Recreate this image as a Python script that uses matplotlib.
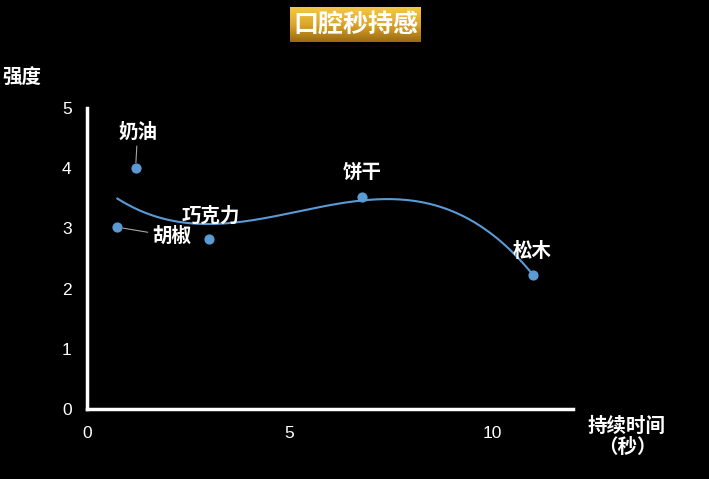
import numpy as np
import matplotlib
matplotlib.use("Agg")
import matplotlib.pyplot as plt
from matplotlib.colors import LinearSegmentedColormap

plt.rcParams['font.family'] = ['Noto Sans CJK SC', 'DejaVu Sans']

names = ["奶油", "胡椒", "巧克力", "饼干", "松木"]
duration = [1.2, 0.75, 3.0, 6.8, 11.0]
intensity = [4.0, 3.02, 2.83, 3.52, 2.23]
xticks = [0, 5, 10]
yticks = [0, 1, 2, 3, 4, 5]

W, H = 709, 479
fig = plt.figure(figsize=(W / 100, H / 100), dpi=100, facecolor="black")
ax = fig.add_axes([87 / W, 1 - 409 / H, (573 - 87) / W, (409 - 108) / H])
ax.set_facecolor("black")
ax.set_xlim(0, 12)
ax.set_ylim(0, 5)
ax.set_xticks(xticks)
ax.set_yticks(yticks)
for s in ["top", "right"]:
    ax.spines[s].set_visible(False)
for s in ["left", "bottom"]:
    ax.spines[s].set_color("white")
    ax.spines[s].set_linewidth(2.5)
ax.tick_params(length=0, colors="white", labelsize=12.5)
ax.tick_params(axis="y", pad=11)
ax.tick_params(axis="x", pad=12)
for lab in ax.get_xticklabels() + ax.get_yticklabels():
    lab.set_fontfamily(["Liberation Sans", "DejaVu Sans"])

# polynomial trendline (order 3)
coef = np.polyfit(duration, intensity, 3)
xs = np.linspace(min(duration), max(duration), 300)
ax.plot(xs, np.polyval(coef, xs), color="#5b9bd5", lw=1.5, zorder=2)

ax.scatter(duration, intensity, s=40, color="#5b9bd5", zorder=3)

offsets = [(2, 36), (54, -9), (2, 23), (0, 25), (0, 23)]
leaders = [True, True, False, False, False]
for n, x, y, off, ld in zip(names, duration, intensity, offsets, leaders):
    ap = None
    if ld:
        ap = dict(arrowstyle="-", color="#a6a6a6", lw=0.8, shrinkA=1, shrinkB=4)
    ax.annotate(n, (x, y), xytext=off, textcoords="offset pixels",
                ha="center", va="center", color="white", fontsize=14,
                fontweight="bold", zorder=4, arrowprops=ap)

# title with gold gradient box
tx0, ty0, tx1, ty1 = 290 / W, 1 - 42 / H, 421 / W, 1 - 7 / H
grad = np.linspace(0, 1, 256).reshape(-1, 1)
cmap = LinearSegmentedColormap.from_list("gold", ["#f6c945", "#dca52c", "#9a6a10"])
tax = fig.add_axes([tx0, ty0, tx1 - tx0, ty1 - ty0])
tax.imshow(grad, aspect="auto", cmap=cmap, extent=[0, 1, 0, 1], origin="upper")
tax.set_axis_off()
fig.text((tx0 + tx1) / 2, (ty0 + ty1) / 2, "口腔秒持感", ha="center", va="center",
         color="white", fontsize=18, fontweight="bold")

fig.text(22 / W, 1 - 78 / H, "强度", ha="center", va="center", color="white",
         fontsize=14, fontweight="bold")
fig.text(627 / W, 1 - 437 / H, "持续时间\n（秒）", ha="center", va="center",
         color="white", fontsize=14, fontweight="bold", linespacing=1.15)

fig.savefig("out.png", dpi=100, facecolor="black")
